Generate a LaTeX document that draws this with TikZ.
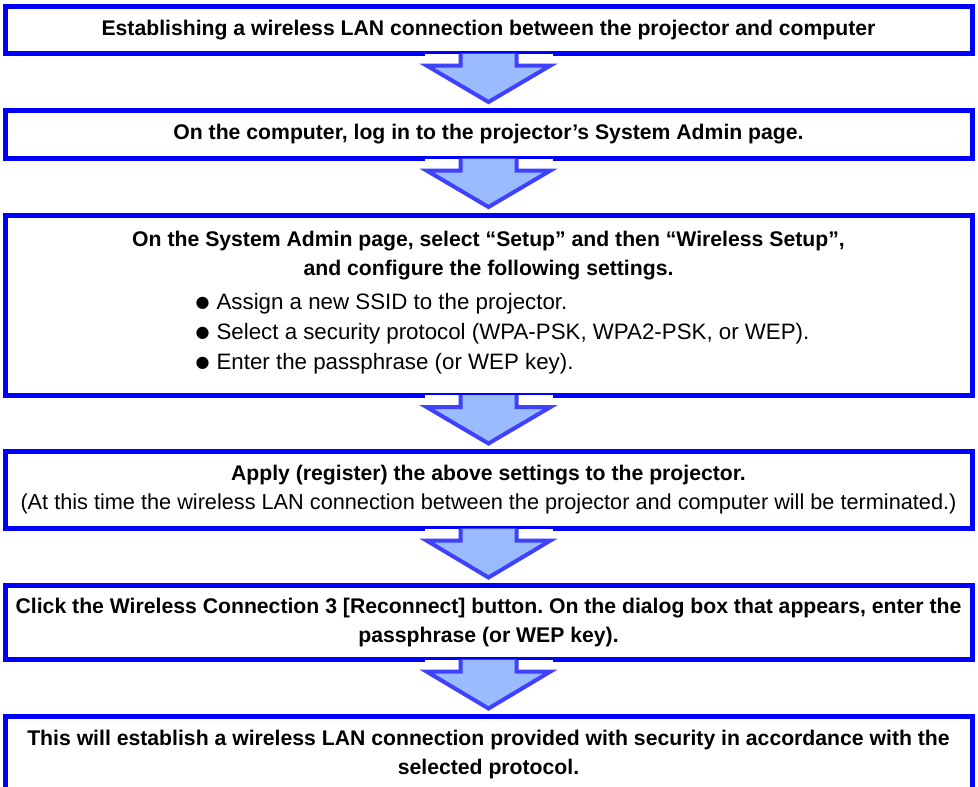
\documentclass[tikz,border=0pt]{standalone}
\usepackage{fontspec}
\setmainfont{Liberation Sans}
\newfontfamily\symfont{DejaVu Sans}
\usetikzlibrary{positioning,calc}
\definecolor{boxblue}{RGB}{0,0,255}
\definecolor{arrowline}{RGB}{64,64,255}
\definecolor{arrowfill}{RGB}{155,187,255}
\newcommand{\dotitem}{\raisebox{2pt}{\symfont\fontsize{16}{29}\selectfont ●}\hspace{7pt}}
\frenchspacing
\begin{document}
\begin{tikzpicture}[x=1pt,y=1pt,node distance={56.5pt},
  box/.style = {draw=boxblue, line width=5pt, minimum width=967pt, inner sep=0pt, outer sep=0pt, align=center, font=\fontsize{21.2}{29}\selectfont}]
        \useasboundingbox (0,0) rectangle (978,-787);
        \clip (0,0) rectangle (978,-787);

        \node[box, minimum height=47pt](b1) at (488.5,-30) {\textbf{Establishing a wireless LAN connection between the projector and computer}};
        \node[box, minimum height=48.5pt, below=of b1](b2) {\textbf{On the computer, log in to the projector’s System Admin page.}};
        \node[box, minimum height=180pt, below=of b2](b3) {\textbf{On the System Admin page, select “Setup” and then “Wireless Setup”,}\\
            \textbf{and configure the following settings.}\\[7pt]
            \hspace*{28pt}{\fontsize{22.3}{29}\selectfont\renewcommand{\arraystretch}{1.05}\begin{tabular}{@{}l@{}}
            \dotitem Assign a new SSID to the projector.\\
            \dotitem Select a security protocol (WPA-PSK, WPA2-PSK, or WEP).\\
            \dotitem Enter the passphrase (or WEP key).
            \end{tabular}}};
        \node[box, minimum height=77pt, below=of b3](b4) {\textbf{Apply (register) the above settings to the projector.}\\
            {\fontsize{21.7}{29}\selectfont (At this time the wireless LAN connection between the projector and computer will be terminated.)}};
        \node[box, minimum height=74pt, below=57pt of b4](b5) {\textbf{Click the Wireless Connection 3 [Reconnect] button. On the dialog box that appears, enter the}\\
            \textbf{passphrase (or WEP key).}};
        \node[box, minimum height=76pt, below=57pt of b5](b6) {\textbf{This will establish a wireless LAN connection provided with security in accordance with the}\\
            \textbf{selected protocol.}};

        % block arrows between the steps
        \foreach \boxa/\boxb in {b1/b2, b2/b3, b3/b4, b4/b5, b5/b6} {
            \path (\boxa.south) coordinate (t) (\boxb.north) coordinate (h);
            \fill[white] ($(t)+(-64,0)$) rectangle ($(t)+(64,-12)$);
            \fill[arrowfill] ($(t)+(-28,0)$) -- ($(t)+(-28,-12)$) -- ($(t)+(-62,-12)$) -- ($(h)+(0,8)$) -- ($(t)+(62,-12)$) -- ($(t)+(28,-12)$) -- ($(t)+(28,0)$) -- cycle;
            \draw[arrowline, line width=4pt] ($(t)+(-28,0)$) -- ($(t)+(-28,-12)$) -- ($(t)+(-62,-12)$) -- ($(h)+(0,8)$) -- ($(t)+(62,-12)$) -- ($(t)+(28,-12)$) -- ($(t)+(28,0)$);
        }
    \end{tikzpicture}
\end{document}
